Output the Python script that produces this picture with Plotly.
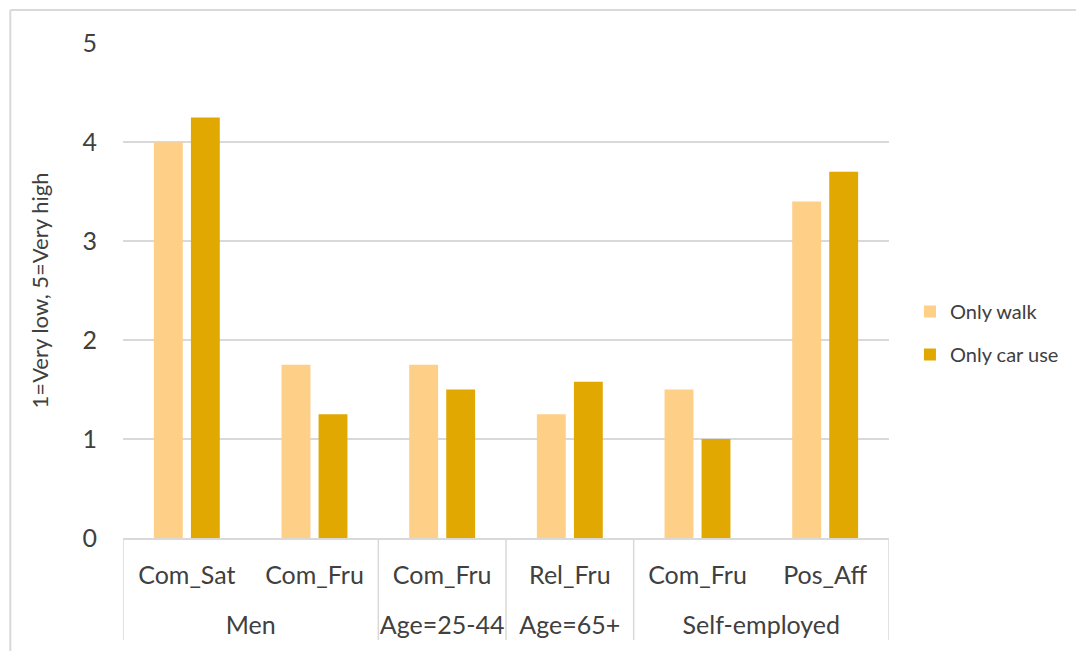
import plotly.graph_objects as go

# Grouping (outer level) and measure (inner level) for each x position
groups = ["Men", "Men", "Age=25-44", "Age=65+", "Self-employed", "Self-employed"]
measures = ["Com_Sat", "Com_Fru", "Com_Fru", "Rel_Fru", "Com_Fru", "Pos_Aff"]

# Mean scores (1=Very low, 5=Very high)
only_walk = [4.0, 1.75, 1.75, 1.25, 1.5, 3.4]
only_car = [4.25, 1.25, 1.5, 1.58, 1.0, 3.7]

walk_color = "#FDCF87"
car_color = "#E0A800"
grid_color = "#D9D9D9"
text_color = "#404040"
font_family = "Lato, 'Open Sans', sans-serif"

# Slot index of every bar pair, plus centre and edges of each group
pos = list(range(len(measures)))
group_names, group_centers, group_edges = [], [], [-0.5]
for i, g in enumerate(groups):
    if i == 0 or g != groups[i - 1]:
        group_names.append(g)
        members = [j for j, h in enumerate(groups) if h == g]
        group_centers.append(sum(members) / len(members))
        group_edges.append(max(members) + 0.5)

fig = go.Figure()
fig.add_trace(go.Bar(
    x=pos, y=only_walk, name="Only walk",
    marker=dict(color=walk_color, line=dict(width=0)),
    legendgroup="walk",
))
fig.add_trace(go.Bar(
    x=pos, y=only_car, name="Only car use",
    marker=dict(color=car_color, line=dict(width=0)),
    legendgroup="car",
))

W, H = 1076, 651
ml, mr, mt, mb = 123, 185, 43, 113
pw, ph = W - ml - mr, H - mt - mb

def px_x(v):
    return (v - ml) / pw

def px_y(v):
    return (H - mb - v) / ph

# Vertical dividers between the groups, running down through the labels
for e in group_edges:
    fig.add_shape(type="line", xref="x", yref="paper",
                  x0=e, x1=e, y0=0, y1=px_y(640),
                  line=dict(color=grid_color, width=1.5))

# Outer frame of the chart area (top and left edges visible)
fig.add_shape(type="line", xref="paper", yref="paper",
              x0=px_x(10), x1=px_x(1080), y0=px_y(10), y1=px_y(10),
              line=dict(color=grid_color, width=2))
fig.add_shape(type="line", xref="paper", yref="paper",
              x0=px_x(10), x1=px_x(10), y0=px_y(10), y1=px_y(655),
              line=dict(color=grid_color, width=2))

x_range = [-0.5, len(measures) - 0.5]

fig.update_layout(
    width=W, height=H,
    margin=dict(l=ml, r=mr, t=mt, b=mb),
    paper_bgcolor="white", plot_bgcolor="white",
    font=dict(family=font_family, color=text_color),
    barmode="group", bargap=0.42, bargroupgap=0.22,
    legend=dict(
        x=px_x(912), y=px_y(333), xanchor="left", yanchor="middle",
        font=dict(size=20, color=text_color),
        tracegroupgap=14, traceorder="grouped",
        itemwidth=30,
    ),
    xaxis=dict(
        range=x_range, tickmode="array", tickvals=pos, ticktext=measures,
        showline=True, linecolor=grid_color, linewidth=1.5,
        tickfont=dict(size=25, color=text_color),
        ticklabelstandoff=14,
        showgrid=False, zeroline=False, ticks="",
    ),
    xaxis2=dict(
        overlaying="x", anchor="y", side="bottom",
        range=x_range, tickmode="array",
        tickvals=group_centers, ticktext=group_names,
        tickfont=dict(size=25, color=text_color),
        ticklabelstandoff=70,
        showgrid=False, zeroline=False, showline=False, ticks="",
    ),
    yaxis=dict(
        range=[0, 5.002], dtick=1,
        showgrid=True, gridcolor=grid_color, gridwidth=1.5,
        zeroline=False, showline=False, ticks="",
        tickfont=dict(size=25, color=text_color),
        ticklabelstandoff=25,
        title=dict(text="1=Very low, 5=Very high",
                   font=dict(size=22, color=text_color), standoff=27),
    ),
)

# An invisible trace on the overlay axis so it is laid out
fig.add_trace(go.Scatter(x=group_centers, y=[0] * len(group_centers),
                         xaxis="x2", mode="markers",
                         marker=dict(opacity=0), showlegend=False,
                         hoverinfo="skip"))

fig.write_html("out.html")
